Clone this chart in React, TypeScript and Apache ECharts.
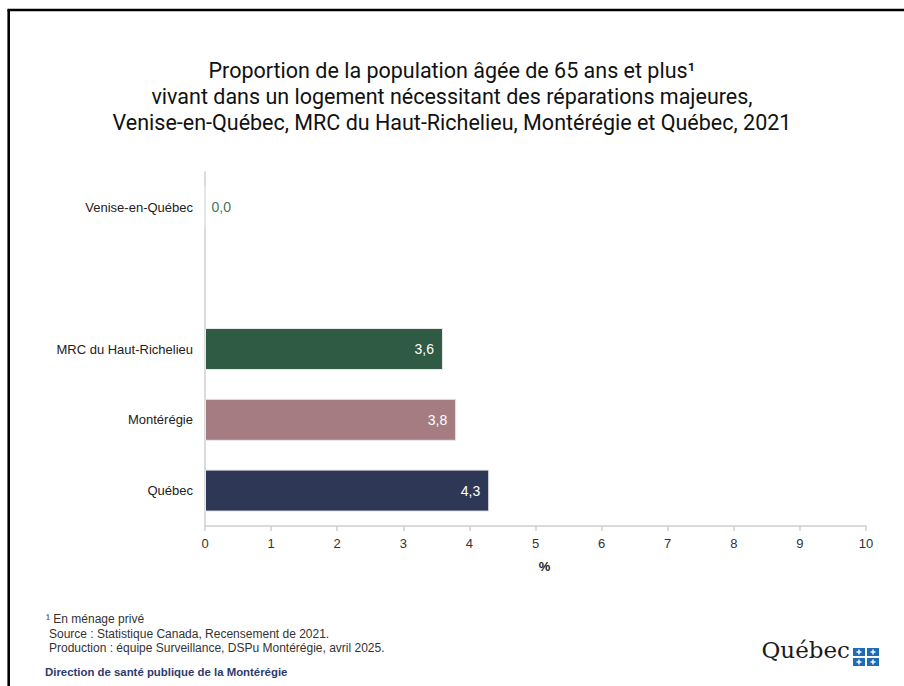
import React, { useEffect, useRef } from "react";
import * as echarts from "echarts";

const categories = ["Venise-en-Québec", "", "MRC du Haut-Richelieu", "Montérégie", "Québec"];
const values: (number | null)[] = [0.0, null, 3.6, 3.8, 4.3];
const barColors = ["#2f5a43", "#ffffff", "#2f5a43", "#a47c82", "#2e3856"];
const xTicks = { min: 0, max: 10, interval: 1 };
const titleLines = [
  "Proportion de la population âgée de 65 ans et plus¹",
  "vivant dans un logement nécessitant des réparations majeures,",
  "Venise-en-Québec, MRC du Haut-Richelieu, Montérégie et Québec, 2021",
];
const notes = [
  "¹ En ménage privé",
  "Source : Statistique Canada, Recensement de 2021.",
  "Production : équipe Surveillance, DSPu Montérégie, avril 2025.",
];
const signature = "Direction de santé publique de la Montérégie";

const fmt = (v: number) => v.toFixed(1).replace(".", ",");

export default function App() {
  const ref = useRef<HTMLDivElement>(null);
  useEffect(() => {
    if (!ref.current) return;
    const chart = echarts.init(ref.current, undefined, { renderer: "svg" });
    const data = values.map((v, i) => {
      if (v === null) return { value: null };
      const zero = v === 0;
      return {
        value: v,
        itemStyle: { color: barColors[i], borderColor: "#e8e8e8", borderWidth: 1 },
        label: zero
          ? { show: true, position: "right", color: "#3d7a5a", distance: 6 }
          : { show: true, position: "insideRight", color: "#ffffff", distance: 9 },
      };
    });
    const flag = (x: number, y: number) => [
      { type: "rect", shape: { x, y, width: 12, height: 8 }, style: { fill: "#1f6bb5" } },
      { type: "rect", shape: { x: x + 5.3, y: y + 1.5, width: 1.4, height: 5 }, style: { fill: "#ffffff" } },
      { type: "rect", shape: { x: x + 3.5, y: y + 3.3, width: 5, height: 1.4 }, style: { fill: "#ffffff" } },
    ];
    chart.setOption({
      animation: false,
      backgroundColor: "#ffffff",
      grid: { left: 205, right: 38, top: 172, bottom: 160, containLabel: false },
      xAxis: {
        type: "value",
        min: xTicks.min,
        max: xTicks.max,
        interval: xTicks.interval,
        name: "%",
        nameLocation: "middle",
        nameGap: 34,
        nameTextStyle: { color: "#222", fontSize: 13, fontFamily: "Liberation Sans", fontWeight: "bold", padding: [0, 0, 0, 18] },
        axisLine: { show: true, lineStyle: { color: "#cfcfcf", width: 1.5 } },
        axisTick: { show: true, length: 5, lineStyle: { color: "#cfcfcf", width: 1.5 } },
        axisLabel: { color: "#333", fontSize: 13, fontFamily: "Liberation Sans", margin: 11 },
        splitLine: { show: false },
      },
      yAxis: {
        type: "category",
        data: categories,
        inverse: true,
        axisLine: { show: true, lineStyle: { color: "#cfcfcf", width: 1.5 } },
        axisTick: { show: false },
        axisLabel: { color: "#222", fontSize: 13, fontFamily: "Liberation Sans", margin: 12 },
      },
      series: [
        {
          type: "bar",
          data,
          barWidth: 42,
          label: {
            show: true,
            fontSize: 14,
            fontFamily: "Liberation Sans",
            formatter: (p: any) => fmt(p.value),
          },
        },
      ],
      graphic: [
        { type: "line", shape: { x1: 8.7, y1: 10, x2: 8.7, y2: 686 }, style: { stroke: "#000", lineWidth: 2.6 } },
        { type: "line", shape: { x1: 7.4, y1: 10, x2: 904, y2: 10 }, style: { stroke: "#000", lineWidth: 2.4 } },
        ...titleLines.map((t, i) => ({
          type: "text",
          x: 452,
          y: 70 + i * 26,
          style: {
            text: t,
            fill: "#111",
            font: "21.5px Roboto",
            textAlign: "center",
            textVerticalAlign: "middle",
          },
        })),
        ...notes.map((t, i) => ({
          type: "text",
          x: i === 0 ? 46 : 49,
          y: 619 + i * 14.5,
          style: { text: t, fill: "#333", font: "12px 'Liberation Sans'", textVerticalAlign: "middle" },
        })),
        {
          type: "text",
          x: 45,
          y: 672,
          style: { text: signature, fill: "#2e3a6e", font: "bold 11.4px 'Liberation Sans'", textVerticalAlign: "middle" },
        },
        {
          type: "text",
          x: 850,
          y: 661,
          style: { text: "Québec", fill: "#1a1a1a", font: "23px 'DejaVu Serif'", textAlign: "right", textVerticalAlign: "bottom" },
        },
        ...flag(853, 648),
        ...flag(867, 648),
        ...flag(853, 658),
        ...flag(867, 658),
      ],
    });
    return () => chart.dispose();
  }, []);
  return <div ref={ref} style={{ position: "fixed", left: 0, top: 0, width: 904, height: 686 }} />;
}
